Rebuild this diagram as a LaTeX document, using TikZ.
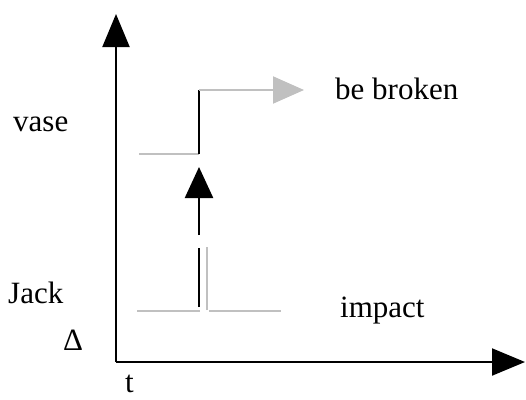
\documentclass[tikz,border=0pt]{standalone}
\usepackage{fontspec}
\setmainfont{Liberation Serif}
\usepackage{xcolor}
\definecolor{lineGray}{HTML}{C0C0C0}
\usetikzlibrary{arrows.meta, positioning}
\tikzset{
    % Axis arrows
    axis/.style={
        line width=2pt,
        draw=black,
        -{Triangle[length=33pt, width=27pt]},
    },
    % Grey state lines
    state line/.style={
        line width=2pt,
        draw=lineGray,
    },
    % Black event lines
    event line/.style={
        line width=2.4pt,
        draw=black,
    },
    % Labels
    label text/.style={
        font=\fontsize{31}{36}\selectfont,
        inner sep=0pt,
    },
}
\begin{document}
\begin{tikzpicture}[x=1pt, y=-1pt]
    \useasboundingbox (0,0) rectangle (526,399);
    % axes
    \coordinate (origin) at (116,362);
    \coordinate (ytip) at (116,14);
    \coordinate (xtip) at (525,362);
    \draw [axis] (origin) -- (ytip);
    \draw [axis] (origin) -- (xtip);

    % vase: state before and after
    \coordinate (vaseStart) at (139,154);
    \coordinate (vaseStep) at (199,154);
    \coordinate (vaseUp) at (199,90);
    \coordinate (vaseTip) at (304,90);
    \draw [state line] (vaseStart) -- (vaseStep);
    \draw [event line] (vaseStep) -- (vaseUp);
    \draw [state line, -{Triangle[length=31pt, width=27pt]}] (vaseUp) -- (vaseTip);

    % Jack: impact pulse
    \coordinate (jackStart) at (137,311);
    \coordinate (jackLeft) at (200,311);
    \coordinate (jackRight) at (209,311);
    \coordinate (jackEnd) at (281,311);
    \coordinate (pulseTop) at (207,247);
    \coordinate (pulseBottom) at (207,310);
    \draw [state line] (jackStart) -- (jackLeft);
    \draw [state line] (jackRight) -- (jackEnd);
    \draw [state line] (pulseBottom) -- (pulseTop);

    % cause arrow
    \coordinate (causeLow) at (199,307);
    \coordinate (causeMid) at (199,248);
    \coordinate (causeGap) at (199,235);
    \coordinate (causeTip) at (199,167);
    \draw [event line] (causeLow) -- (causeMid);
    \draw [event line, -{Triangle[length=31pt, width=28pt]}] (causeGap) -- (causeTip);

    % labels
    \node (vase) [label text, anchor=base west] at (13,131) {vase};
    \node (broken) [label text, anchor=base west] at (335,99) {be broken};
    \node (jack) [label text, anchor=base west] at (8,303) {Jack};
    \node (impact) [label text, anchor=base west] at (340,317) {impact};
    \node (delta) [label text, anchor=base west] at (63,350) {Δ};
    \node (time) [label text, anchor=base west] at (125,392) {t};
\end{tikzpicture}
\end{document}
